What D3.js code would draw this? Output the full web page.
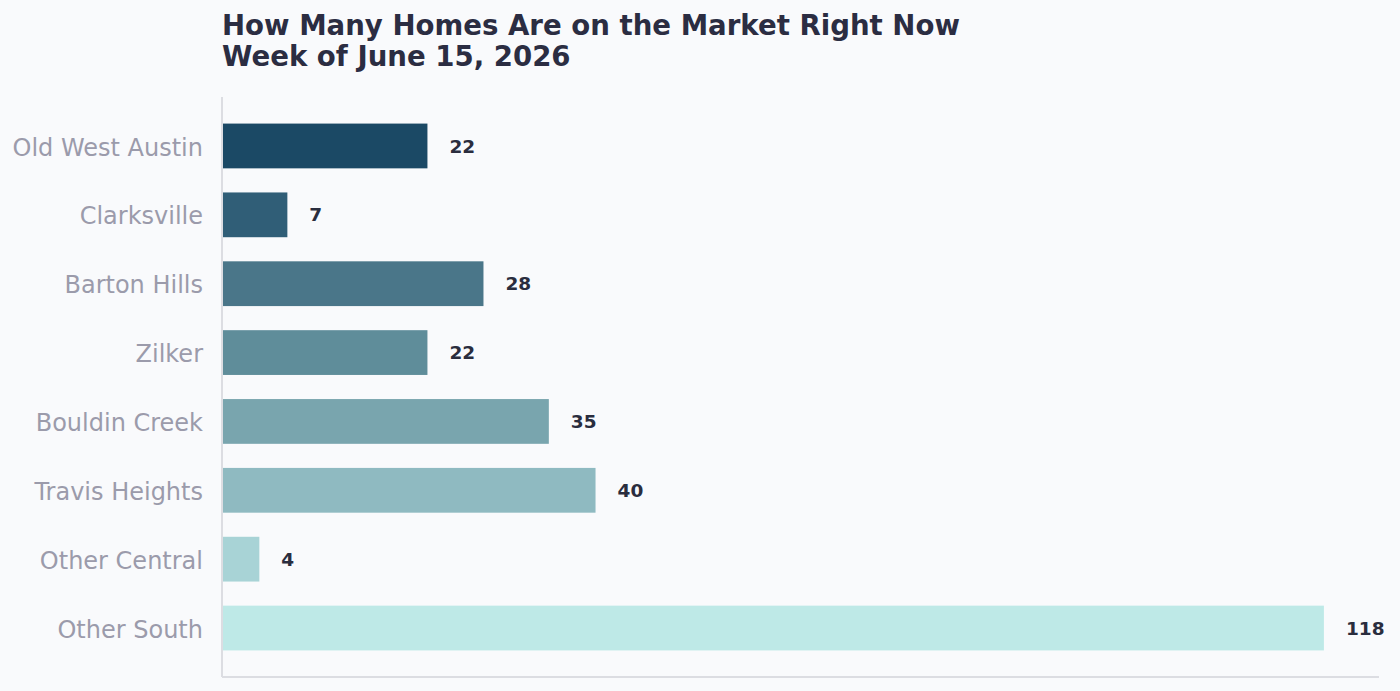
<html>
<head>
  <title>Homes on the Market</title>
  <script src="https://cdn.jsdelivr.net/npm/d3@7"></script>
<style type="text/css">
body { margin: 0; background: #f9fafc; }
svg text { font-family: "DejaVu Sans", sans-serif; }
</style>
</head>
<body>
<script type="text/javascript">
// listings per neighborhood
var neighborhoods = ['Old West Austin', 'Clarksville', 'Barton Hills', 'Zilker',
                     'Bouldin Creek', 'Travis Heights', 'Other Central', 'Other South'];
var listings = [22, 7, 28, 22, 35, 40, 4, 118];
var barColors = ['#1b4965', '#305e77', '#4a7689', '#5f8d9a', '#79a5ae', '#8fbac1', '#a8d3d6', '#bee9e7'];
var titleLines = ['How Many Homes Are on the Market Right Now', 'Week of June 15, 2026'];

var w = 1400, h = 691;
// note: can't call these top/left, window.top is read-only
var plotL = 222, plotR = 1379, plotT = 97, plotB = 677;

var svg = d3.select('body').append('svg')
  .attr('width', w)
  .attr('height', h);

svg.append('rect').attr('width', w).attr('height', h).attr('fill', '#f9fafc');

var rows = neighborhoods.map(function(n, i) { return {name: n, value: listings[i], color: barColors[i]}; });

var x = d3.scaleLinear()
  .domain([0, d3.max(listings) * 1.05])
  .range([plotL, plotR]);

var y = d3.scaleBand()
  .domain(neighborhoods)
  .range([plotT, plotB])
  .paddingInner(0.35)
  .paddingOuter(0.386);

// axis lines (left + bottom only)
svg.append('line')
  .attr('x1', plotL).attr('x2', plotL)
  .attr('y1', plotT).attr('y2', plotB)
  .attr('stroke', '#dcdde2').attr('stroke-width', 2);
svg.append('line')
  .attr('x1', plotL).attr('x2', plotR)
  .attr('y1', plotB).attr('y2', plotB)
  .attr('stroke', '#dcdde2').attr('stroke-width', 2);

svg.selectAll('rect.bar')
  .data(rows)
  .enter()
  .append('rect')
  .attr('class', 'bar')
  .attr('x', x(0) + 1)
  .attr('y', function(d) { return y(d.name); })
  .attr('width', function(d) { return x(d.value) - x(0) - 1; })
  .attr('height', y.bandwidth())
  .attr('fill', function(d) { return d.color; });

// value labels
svg.selectAll('text.val')
  .data(rows)
  .enter()
  .append('text')
  .attr('class', 'val')
  .attr('x', function(d) { return x(d.value) + 22; })
  .attr('y', function(d) { return y(d.name) + y.bandwidth() / 2; })
  .attr('dy', '0.36em')
  .attr('font-size', 18.5)
  .attr('font-weight', 'bold')
  .attr('fill', '#2a2d3e')
  .text(function(d) { return d.value; });

// category labels
svg.selectAll('text.cat')
  .data(rows)
  .enter()
  .append('text')
  .attr('class', 'cat')
  .attr('x', plotL - 19)
  .attr('y', function(d) { return y(d.name) + y.bandwidth() / 2 + 1; })
  .attr('dy', '0.36em')
  .attr('text-anchor', 'end')
  .attr('font-size', 24)
  .attr('fill', '#9b9bab')
  .text(function(d) { return d.name; });

svg.selectAll('text.title')
  .data(titleLines)
  .enter()
  .append('text')
  .attr('class', 'title')
  .attr('x', plotL)
  .attr('y', function(d, i) { return 35 + i * 31; })
  .attr('font-size', 27.6)
  .attr('font-weight', 'bold')
  .attr('fill', '#2b2d42')
  .text(function(d) { return d; });
</script>
</body>
</html>
